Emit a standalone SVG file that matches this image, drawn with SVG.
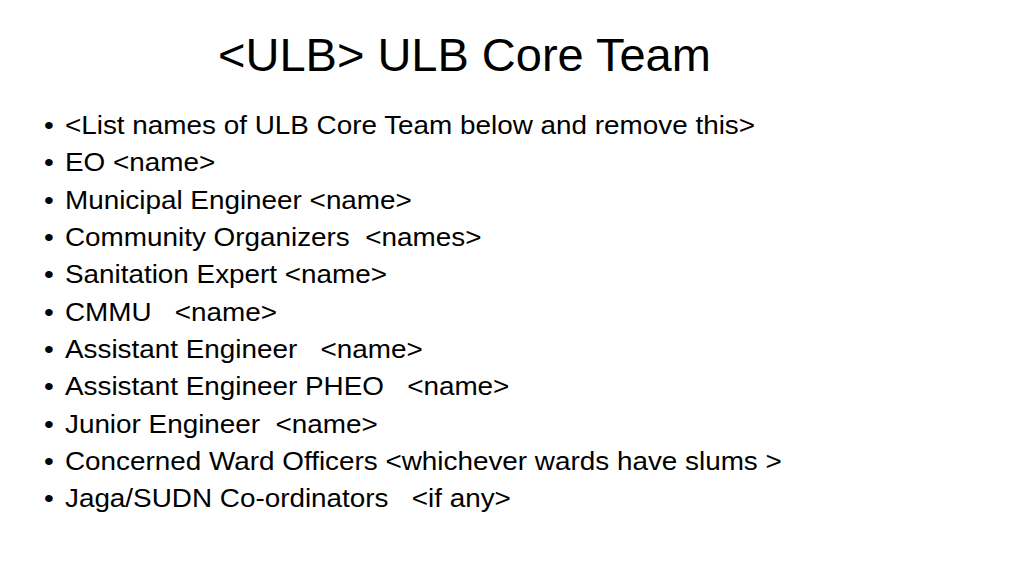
<svg xmlns="http://www.w3.org/2000/svg" width="1024" height="576" viewBox="0 0 1024 576">
<style>
text{font-family:"Liberation Sans",Arial,sans-serif;fill:#000;white-space:pre}
.t{font-size:47px}
.b{font-size:26px}
</style>
<rect width="1024" height="576" fill="#fff"/>
<text class="t" x="218" y="71">&lt;ULB&gt; ULB Core Team</text>
<g transform="scale(1.072,1)" xml:space="preserve">
<text class="b" x="41" y="134">•</text><text class="b" x="60.6" y="134">&lt;List names of ULB Core Team below and remove this&gt;</text>
<text class="b" x="41" y="171">•</text><text class="b" x="60.6" y="171">EO &lt;name&gt;</text>
<text class="b" x="41" y="209">•</text><text class="b" x="60.6" y="209">Municipal Engineer &lt;name&gt;</text>
<text class="b" x="41" y="246">•</text><text class="b" x="60.6" y="246">Community Organizers  &lt;names&gt;</text>
<text class="b" x="41" y="283">•</text><text class="b" x="60.6" y="283">Sanitation Expert &lt;name&gt;</text>
<text class="b" x="41" y="321">•</text><text class="b" x="60.6" y="321">CMMU   &lt;name&gt;</text>
<text class="b" x="41" y="358">•</text><text class="b" x="60.6" y="358">Assistant Engineer   &lt;name&gt;</text>
<text class="b" x="41" y="395">•</text><text class="b" x="60.6" y="395">Assistant Engineer PHEO   &lt;name&gt;</text>
<text class="b" x="41" y="433">•</text><text class="b" x="60.6" y="433">Junior Engineer  &lt;name&gt;</text>
<text class="b" x="41" y="470">•</text><text class="b" x="60.6" y="470">Concerned Ward Officers &lt;whichever wards have slums &gt;</text>
<text class="b" x="41" y="507">•</text><text class="b" x="60.6" y="507">Jaga/SUDN Co-ordinators   &lt;if any&gt;</text>
</g>
</svg>
